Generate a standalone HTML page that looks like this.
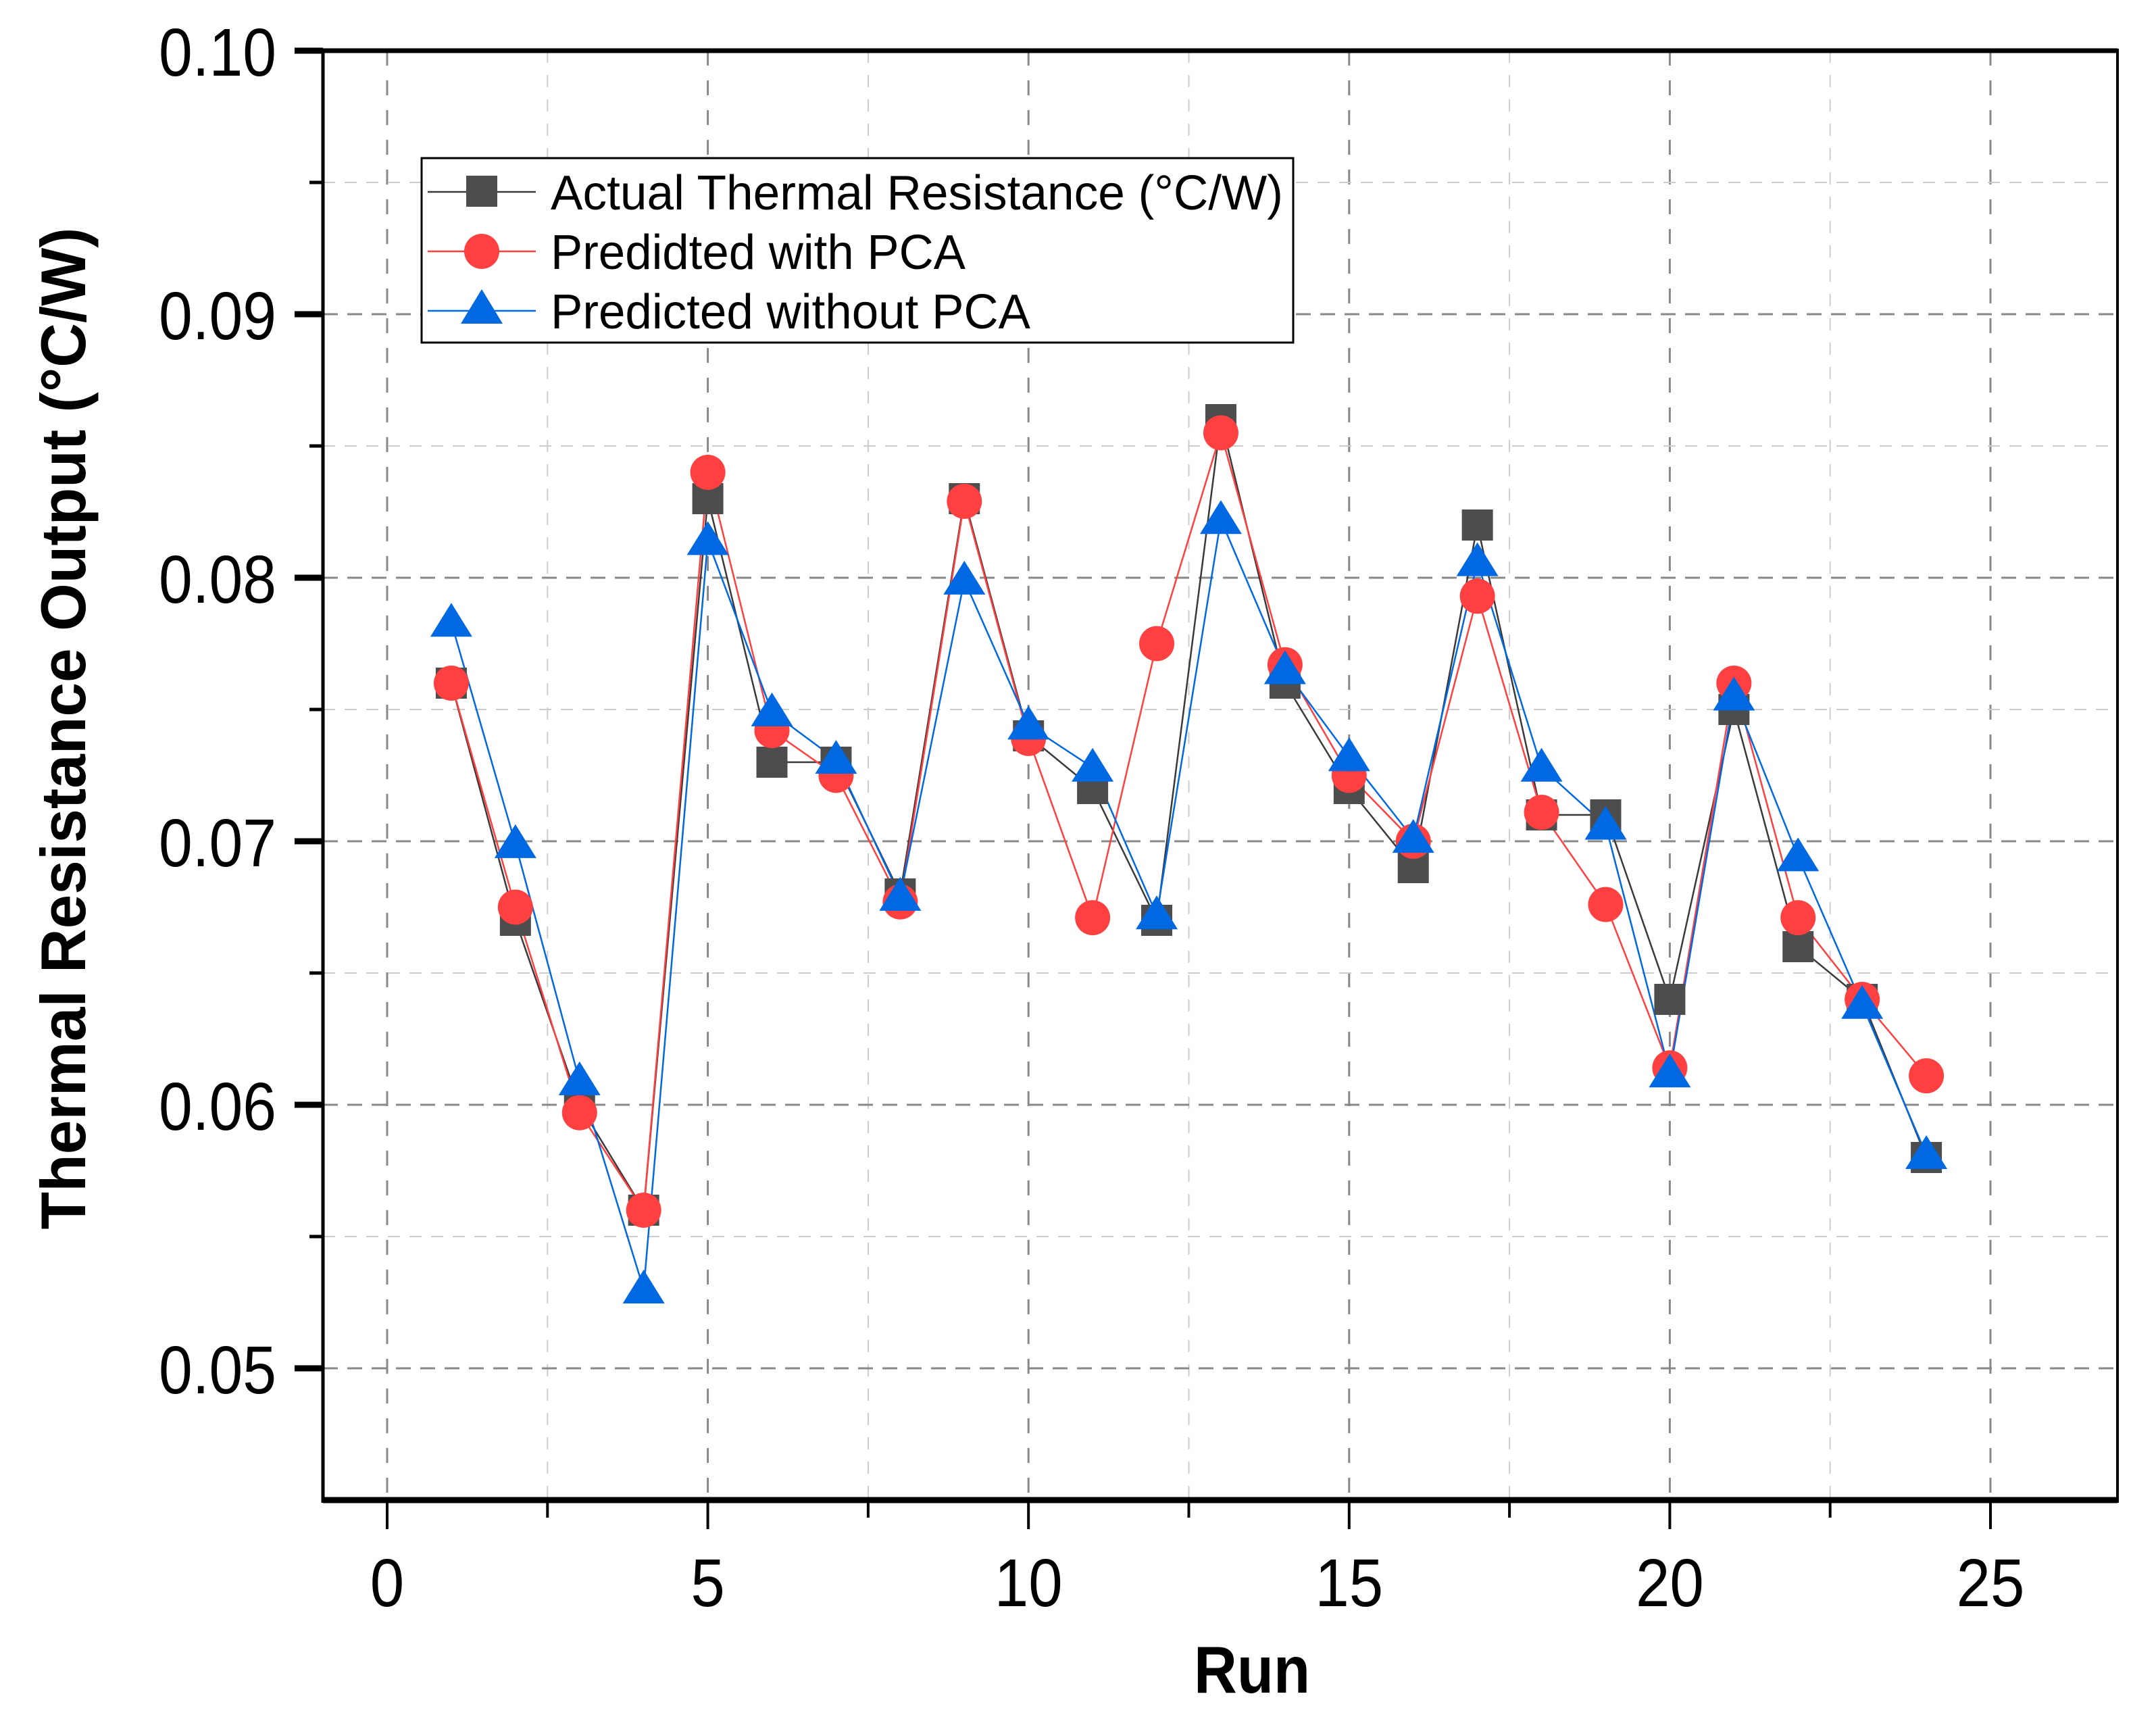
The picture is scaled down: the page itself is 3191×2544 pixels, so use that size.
<!DOCTYPE html>
<html><head><meta charset="utf-8">
<style>
html,body{margin:0;padding:0;background:#fff;}
svg{display:block;font-family:"Liberation Sans",Arial,sans-serif;}
</style></head>
<body>
<svg id="chart" width="3191" height="2544" viewBox="0 0 3191 2544" xmlns="http://www.w3.org/2000/svg">
<g id="grid"></g>
<g id="series"></g>
<g id="axes"></g>
<g id="legend"></g>
</svg>
<script>
const runs = [1,2,3,4,5,6,7,8,9,10,11,12,13,14,15,16,17,18,19,20,21,22,23,24];
const actual = [0.076,0.067,0.060,0.056,0.083,0.073,0.073,0.068,0.083,0.074,0.072,0.067,0.086,0.076,0.072,0.069,0.082,0.071,0.071,0.064,0.075,0.066,0.064,0.058];
const withPCA = [0.0760,0.0675,0.0597,0.0560,0.0840,0.0742,0.0725,0.0677,0.0829,0.0739,0.0671,0.0775,0.0855,0.0767,0.0725,0.0700,0.0793,0.0711,0.0676,0.0614,0.0760,0.0671,0.0640,0.0611];
const withoutPCA = [0.0783,0.0699,0.0609,0.0530,0.0814,0.0749,0.0731,0.0679,0.0799,0.0744,0.0728,0.0672,0.0822,0.0765,0.0732,0.0701,0.0806,0.0728,0.0706,0.0612,0.0755,0.0694,0.0638,0.0581];
const xTicks = [0,5,10,15,20,25];
const yTicks = [0.05,0.06,0.07,0.08,0.09,0.10];
const yTickLabels = ["0.05","0.06","0.07","0.08","0.09","0.10"];

const NS="http://www.w3.org/2000/svg";
const L=478,R=3134,T=75,B=2220;
const X0=573,XU=94.92;
function sx(v){return X0+v*XU;}
function sy(v){return 2025-(v-0.05)*39000;}
function mk(tag,attrs,parent){const e=document.createElementNS(NS,tag);for(const k in attrs)e.setAttribute(k,attrs[k]);parent.appendChild(e);return e;}
function tlen(s){let w=0;for(const c of s)w+=(c==='.')?30:48;return w;}
const grid=document.getElementById('grid'),series=document.getElementById('series'),axes=document.getElementById('axes'),legend=document.getElementById('legend');

for(let v=0;v<=27.5;v+=2.5){
  const x=sx(v); if(x<=L||x>=R)continue;
  const major=(v%5===0);
  const g=mk('line',{x1:x,y1:T,x2:x,y2:B,stroke:major?'#888':'#ccc','stroke-width':major?3:2,'stroke-dasharray':major?'22,22':'18,18'},grid);
  
  
}
for(let v=0.045;v<=0.1;v+=0.005){
  const y=sy(v); if(y<=T+4||y>=B-4)continue;
  const major=Math.abs(Math.round(v*100)-v*100)<1e-6;
  const g=mk('line',{x1:L,y1:y,x2:R,y2:y,stroke:major?'#888':'#ccc','stroke-width':major?3:2,'stroke-dasharray':major?'22,14':'18,14'},grid);
  
  
}

function drawLine(vals,color,name){
  const pts=runs.map((r,i)=>sx(r)+','+sy(vals[i])).join(' ');
  const p=mk('polyline',{points:pts,fill:'none',stroke:color,'stroke-width':2.5},series);
  
  
}
drawLine(actual,'#3a3a3a','actual');
drawLine(withPCA,'#ff4040','with-pca');
drawLine(withoutPCA,'#0068e0','without-pca');
runs.forEach((r,i)=>{
  const s=mk('rect',{x:sx(r)-23,y:sy(actual[i])-23,width:46,height:46,fill:'#4d4d4d'},series);
  
  
});
runs.forEach((r,i)=>{
  const c=mk('circle',{cx:sx(r),cy:sy(withPCA[i]),r:26,fill:'#ff4040'},series);
  
  
});
runs.forEach((r,i)=>{
  const x=sx(r),y=sy(withoutPCA[i]);
  const t=mk('polygon',{points:`${x},${y-29} ${x-31},${y+21} ${x+31},${y+21}`,fill:'#0068e0'},series);
  
  
});

const fr=[[L,T,R,T,7],[L,B,R,B,9],[L,T-3,L,B+4,5],[R,T-3,R,B+4,4]];
fr.forEach(f=>{const a=mk('line',{x1:f[0],y1:f[1],x2:f[2],y2:f[3],stroke:'#000','stroke-width':f[4]},axes);
  
  });
for(let v=0;v<=25;v+=2.5){
  const major=(v%5===0);const x=sx(v);
  const t=mk('line',{x1:x,y1:B,x2:x,y2:B+(major?43:26),stroke:'#000','stroke-width':4},axes);
  
  
}
xTicks.forEach(v=>{
  const s=String(v);
  const t=mk('text',{x:sx(v),y:2377,'font-size':100,'text-anchor':'middle',fill:'#000',textLength:tlen(s)*1.05,lengthAdjust:'spacingAndGlyphs'},axes);
  t.textContent=s;
  
  
});
for(let v=0.05;v<=0.1001;v+=0.005){
  const major=Math.abs(Math.round(v*100)-v*100)<1e-6;const y=sy(v);
  const t=mk('line',{x1:L-(major?42:20),y1:y,x2:L,y2:y,stroke:'#000','stroke-width':major?9:5},axes);
  
  
}
yTicks.forEach((v,i)=>{
  const s=yTickLabels[i];
  const t=mk('text',{x:409,y:sy(v)+37,'font-size':100,'text-anchor':'end',fill:'#000',textLength:tlen(s),lengthAdjust:'spacingAndGlyphs'},axes);
  t.textContent=s;
  
  
});
const xt=mk('text',{x:1853,y:2505,'font-size':98,'font-weight':'bold','text-anchor':'middle',textLength:172,lengthAdjust:'spacingAndGlyphs'},axes);
xt.textContent='Run';


const yt=mk('text',{x:0,y:0,'font-size':94,'font-weight':'bold','text-anchor':'middle',textLength:1483,lengthAdjust:'spacingAndGlyphs',transform:'translate(126,1078) rotate(-90)'},axes);
yt.textContent='Thermal Resistance Output (°C/W)';



const lb=mk('rect',{x:624,y:234,width:1290,height:273,fill:'#fff',stroke:'#000','stroke-width':3},legend);


const entries=[['Actual Thermal Resistance (°C/W)','#3a3a3a','sq',284,1084],['Predidted with PCA','#ff4040','ci',372,614],['Predicted without PCA','#0068e0','tr',460,710]];
entries.forEach(e=>{
  const g=mk('g',{},legend);
  
  
  const y=e[3];
  mk('line',{x1:633,y1:y,x2:793,y2:y,stroke:e[1],'stroke-width':2.5},g);
  if(e[2]==='sq')mk('rect',{x:690,y:y-24,width:46,height:46,fill:'#4d4d4d'},g);
  if(e[2]==='ci')mk('circle',{cx:713,cy:y,r:26,fill:'#ff4040'},g);
  if(e[2]==='tr')mk('polygon',{points:`713,${y-32} 682,${y+19} 744,${y+19}`,fill:'#0068e0'},g);
  const t=mk('text',{x:815,y:y+26,'font-size':72,fill:'#000',textLength:e[4],lengthAdjust:'spacingAndGlyphs'},g);
  t.textContent=e[0];
});
</script>
</body></html>
